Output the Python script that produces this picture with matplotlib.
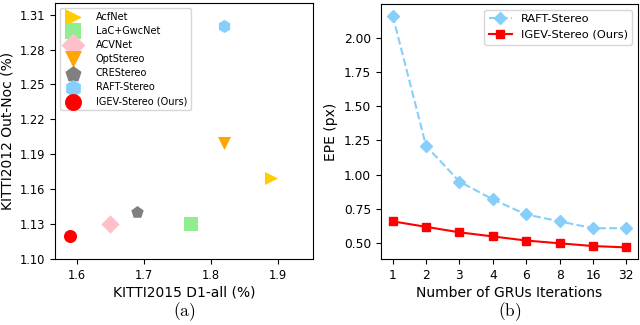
import matplotlib
matplotlib.use("Agg")
import matplotlib.pyplot as plt

plt.rcParams["mathtext.fontset"] = "cm"

# Scatter (a)
methods = ["AcfNet", "LaC+GwcNet", "ACVNet", "OptStereo", "CREStereo", "RAFT-Stereo", "IGEV-Stereo (Ours)"]
d1_all = [1.89, 1.77, 1.65, 1.82, 1.69, 1.82, 1.59]
out_noc = [1.17, 1.13, 1.13, 1.20, 1.14, 1.30, 1.12]
markers = [">", "s", "D", "v", "p", "h", "o"]
colors = ["#FFCC00", "#90EE90", "#FFC0CB", "#FFA500", "gray", "#87CEFA", "red"]
yticks_a = [1.10, 1.13, 1.16, 1.19, 1.22, 1.25, 1.28, 1.31]
xticks_a = [1.6, 1.7, 1.8, 1.9]

# Line (b)
iters = ["1", "2", "3", "4", "6", "8", "16", "32"]
raft_epe = [2.16, 1.21, 0.95, 0.82, 0.71, 0.66, 0.61, 0.61]
igev_epe = [0.66, 0.62, 0.58, 0.55, 0.52, 0.50, 0.48, 0.47]
yticks_b = [0.50, 0.75, 1.00, 1.25, 1.50, 1.75, 2.00]

fig = plt.figure(figsize=(6.4, 3.25), dpi=100)
W, H = 640, 325
ax1 = fig.add_axes([55 / W, 1 - 259 / H, (313 - 55) / W, (259 - 3) / H])
ax2 = fig.add_axes([381 / W, 1 - 259 / H, (638 - 381) / W, (259 - 4) / H])

for m, x, y, mk, c in zip(methods, d1_all, out_noc, markers, colors):
    ax1.scatter([x], [y], marker=mk, color=c, s=88, label=m, linewidths=0)
ax1.set_xlim(1.568, 1.952)
ax1.set_ylim(1.10, 1.32)
ax1.set_xticks(xticks_a)
ax1.set_yticks(yticks_a)
ax1.set_xticklabels([f"{v:.1f}" for v in xticks_a])
ax1.set_yticklabels([f"{v:.2f}" for v in yticks_a])
ax1.set_xlabel("KITTI2015 D1-all (%)", fontsize=10, labelpad=3)
ax1.set_ylabel("KITTI2012 Out-Noc (%)", fontsize=10)
ax1.tick_params(labelsize=8.3)
ax1.legend(loc="upper left", fontsize=7, markerscale=1.3, handletextpad=1.3,
           labelspacing=0.42, borderpad=0.4)

x = list(range(len(iters)))
ax2.plot(x, raft_epe, linestyle="--", marker="D", color="#87CEFA", markersize=6.5, label="RAFT-Stereo")
ax2.plot(x, igev_epe, linestyle="-", marker="s", color="red", markersize=6, label="IGEV-Stereo (Ours)")
ax2.set_xticks(x)
ax2.set_xticklabels(iters)
ax2.set_yticks(yticks_b)
ax2.set_yticklabels([f"{v:.2f}" for v in yticks_b])
ax2.set_xlabel("Number of GRUs Iterations", fontsize=10, labelpad=3)
ax2.set_ylabel("EPE (px)", fontsize=10)
ax2.tick_params(labelsize=8.8)
ax2.legend(loc="upper right", fontsize=8.2)

fig.text((55 + 313) / 2 / W, 1 - 312 / H, r"$\mathrm{(a)}$", ha="center", va="center", fontsize=12.5)
fig.text((381 + 638) / 2 / W, 1 - 312 / H, r"$\mathrm{(b)}$", ha="center", va="center", fontsize=12.5)

fig.savefig("out.png", dpi=100)
